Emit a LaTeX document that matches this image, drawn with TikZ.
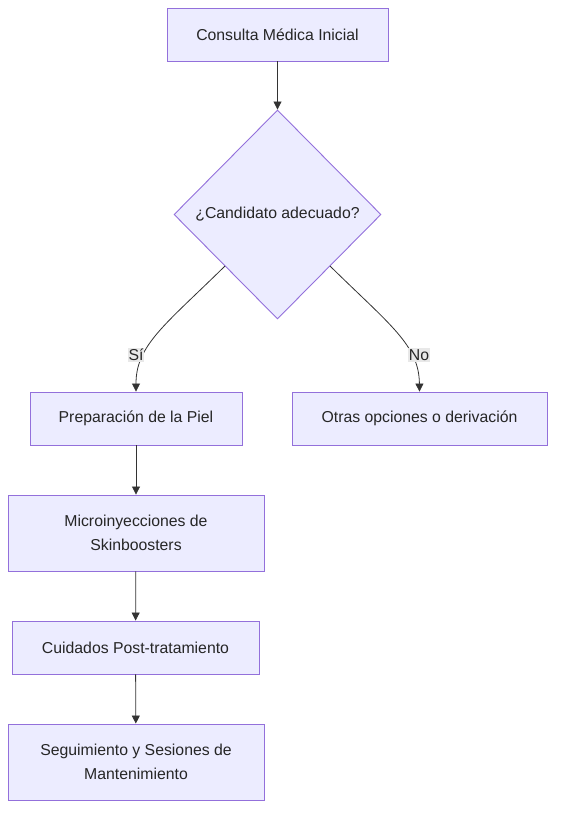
\documentclass[tikz,border=0pt]{standalone}
\usepackage{fontspec}
\setmainfont{Liberation Sans}
\usetikzlibrary{arrows.meta,shapes.geometric}
\definecolor{nodefill}{HTML}{ECECFF}
\definecolor{nodeline}{HTML}{9370DB}
\definecolor{edgecol}{HTML}{333333}
\definecolor{lblbg}{HTML}{E8E8E8}
\tikzset{
  box/.style={draw=nodeline, fill=nodefill, line width=0.9pt, rectangle, align=center, font=\fontsize{15.8}{24}\selectfont, text=black!85, inner sep=0pt},
  edge/.style={draw=edgecol, line width=0.8pt, -{Triangle[length=8pt,width=8pt]}},
  lbl/.style={fill=lblbg, font=\fontsize{15.8}{18}\selectfont, text=black!85, inner sep=1pt}
}
\begin{document}
\begin{tikzpicture}[x=1pt,y=-1pt]
\useasboundingbox (0,0) rectangle (563,820);
\node[box, minimum width=221pt, minimum height=53pt] (a) at (277.5,34.5) {Consulta Médica Inicial};
\node[draw=nodeline, fill=nodefill, line width=0.9pt, diamond, minimum width=207pt, minimum height=209pt, inner sep=0pt, font=\fontsize{15.8}{24}\selectfont, text=black!85] (d) at (277.5,214.5) {¿Candidato adecuado?};
\node[box, minimum width=212pt, minimum height=53pt] (b) at (136,418.5) {Preparación de la Piel};
\node[box, minimum width=255pt, minimum height=53pt] (c) at (419.5,418.5) {Otras opciones o derivación};
\node[box, minimum width=256pt, minimum height=76pt] (e) at (136,533) {Microinyecciones de\\Skinboosters};
\node[box, minimum width=247pt, minimum height=53pt] (f) at (135.5,647.5) {Cuidados Post-tratamiento};
\node[box, minimum width=256pt, minimum height=76pt] (g) at (136,762) {Seguimiento y Sesiones de\\Mantenimiento};
\coordinate (dl) at (225,266);
\coordinate (dr) at (330,266);
\draw[edge] (a) -- (d);
\draw[edge] (dl) .. controls (165,325) and (136,345) .. (b.north);
\draw[edge] (dr) .. controls (390,325) and (419,345) .. (c.north);
\node[lbl] (ls) at (136,355) {Sí};
\node[lbl] (ln) at (419,355) {No};
\draw[edge] (b) -- (e);
\draw[edge] (e) -- (f);
\draw[edge] (f) -- (g);
\end{tikzpicture}
\end{document}
